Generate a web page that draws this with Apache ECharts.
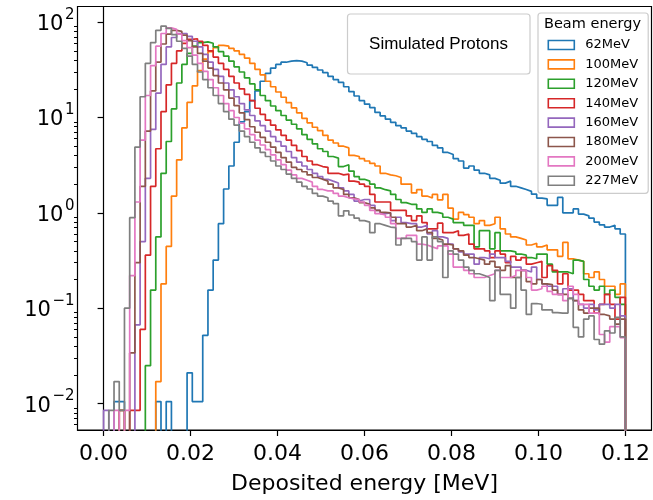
<!DOCTYPE html>
<html><head><meta charset="utf-8">
<script src="https://cdn.jsdelivr.net/npm/echarts@6/dist/echarts.min.js"></script>
<style>html,body{margin:0;padding:0;background:#fff}#c{width:653px;height:500px}</style>
</head><body><div id="c"></div>
<script>
// ---- data ----
const energies = ['62MeV','100MeV','120MeV','140MeV','160MeV','180MeV','200MeV','227MeV'];
const colors = ['#1f77b4','#ff7f0e','#2ca02c','#d62728','#9467bd','#8c564b','#e377c2','#7f7f7f'];
const binWidth = 0.0012;   // 100 bins from 0 to 0.12 MeV
const v62 = [0,0,0.0105,0.0105,0,0,0,0,0,0,
 0.0105,0,0.0105,0,0,0,0.021,0.0105,0.0105,0.052,
 0.155,0.32,0.77,1.78,3.1,5.5,9.0,11.5,15,19,
 24,29,33,36,38,39,39.5,39,37.5,35.5,
 33.5,31.5,29.5,27,25,23.3,21,18.7,16.8,15,
 13.8,12.7,11.3,10.4,9.6,8.9,8.2,7.8,7.2,6.8,
 6.3,5.9,5.6,5.1,4.8,4.3,4.1,3.7,3.5,2.95,
 3.1,2.8,2.6,2.5,2.3,2.2,2.05,2.15,1.9,1.83,
 1.76,1.68,1.57,1.43,1.4,1.2,1.2,1.45,1.0,1.0,
 1.1,0.97,0.93,0.88,0.8,0.75,0.71,0.74,0.68,0.6];
const v100 = [0,0,0,0.0085,0,0,0,0,0,0,
 0.017,0.18,0.445,1.5,3.6,7.8,14.4,21.5,31,41,
 49,54,57,56,53,50,46,42,37,32,
 28,24,21,18.5,16.3,14.3,12.6,11.2,9.8,8.8,
 7.9,7.3,6.5,5.8,5.4,5.0,4.8,4.0,3.9,3.7,
 3.5,3.3,3.1,2.6,2.5,2.45,2.35,2.0,2.0,1.62,
 1.75,1.5,1.43,1.56,1.37,1.56,1.12,0.86,1.01,0.96,
 0.9,0.77,0.83,0.74,0.77,0.9,0.68,0.6,0.56,0.54,
 0.52,0.46,0.48,0.44,0.46,0.41,0.41,0.35,0.49,0.33,
 0.32,0.31,0.23,0.21,0.24,0.2,0.17,0.17,0.14,0.18];
const v120 = [0,0,0,0,0,0,0,0,0.025,0.155,
 0.56,2.6,5.6,12.3,23,36,47,56,61,62,
 60,55,49,44,39,34,30,26,22.5,19.5,
 17,15,13.2,11.8,10.5,9.4,8.5,7.6,6.6,5.9,
 5.3,4.7,4.4,3.9,3.75,3.06,3.2,2.74,2.4,2.25,
 2.15,2.0,1.83,1.75,1.7,1.56,1.38,1.28,1.23,1.23,
 1.1,1.01,1.1,1.01,0.98,0.9,0.86,0.79,0.79,0.74,
 0.74,0.44,0.65,0.65,0.42,0.62,0.4,0.4,0.39,0.37,
 0.36,0.34,0.33,0.37,0.37,0.29,0.24,0.24,0.24,0.23,
 0.32,0.31,0.2,0.17,0.155,0.17,0.14,0.155,0.13,0.11];
const v140 = [0,0,0,0,0,0.0085,0.0085,0.06,0.36,1.9,
 4.7,11.5,22,37,50,60,66,67,63,57,
 50,43,37,32,27,23,20,17.5,15,12.5,
 10.8,9.4,8.3,7.4,6.5,5.8,5.1,4.5,3.9,3.5,
 3.2,3.06,3.0,2.6,2.6,2.5,2.55,2.15,2.1,2.0,
 1.9,1.56,1.3,1.3,1.3,1.06,1.06,1.06,0.93,0.83,
 0.93,0.79,0.68,0.68,0.78,0.62,0.62,0.65,0.58,0.6,
 0.47,0.42,0.42,0.4,0.34,0.4,0.37,0.3,0.35,0.32,
 0.34,0.29,0.3,0.31,0.21,0.28,0.25,0.18,0.23,0.155,
 0.155,0.14,0.12,0.12,0.089,0.11,0.14,0.11,0.077,0.13];
const v160 = [0.0085,0,0,0,0,0,0.067,0.5,2.3,7.5,
 18,36,55,69,76,76,71,63,55,46,
 38,32,27,23,19.5,16.5,14,12,10.5,9.2,
 8.2,7.2,6.3,5.6,5.0,4.4,3.8,3.4,3.1,2.85,
 2.6,2.4,2.25,2.15,2.06,1.83,1.7,1.56,1.33,1.38,
 1.38,1.2,1.06,0.98,1.0,0.83,0.9,0.79,0.77,0.77,
 0.71,0.74,0.6,0.65,0.56,0.54,0.47,0.42,0.39,0.37,
 0.37,0.29,0.34,0.33,0.37,0.34,0.34,0.31,0.27,0.27,
 0.25,0.24,0.27,0.2,0.18,0.17,0.17,0.14,0.16,0.16,
 0.12,0.11,0.1,0.11,0.096,0.11,0.11,0.1,0.11,0.083];
const v180 = [0,0,0,0.0085,0,0.034,0.3,1.9,7.2,19,
 38,59,75,82,80,73,64,55,47,39,
 33,27.5,23,19.5,16,13.3,11.2,9.5,8.0,7.0,
 6.2,5.5,4.9,4.3,3.8,3.4,3.0,2.85,2.7,2.5,
 2.35,2.25,2.15,2.0,1.83,1.76,1.56,1.44,1.38,1.28,
 1.23,1.13,1.06,1.01,1.0,0.9,0.77,0.77,0.71,0.74,
 0.65,0.68,0.62,0.54,0.52,0.47,0.46,0.42,0.4,0.36,
 0.34,0.33,0.32,0.29,0.31,0.27,0.25,0.28,0.21,0.21,
 0.25,0.19,0.18,0.2,0.18,0.177,0.155,0.14,0.14,0.127,
 0.12,0.096,0.089,0.1,0.1,0.086,0.083,0.077,0.068,0.077];
const v200 = [0,0,0.0085,0,0.0085,0.22,1.3,5.8,17,35,
 56,76,87,84,75,64,54,45,37,30.5,
 25,20.5,17,14,11.8,10,8.7,7.6,6.6,5.8,
 5.15,4.6,4.05,3.6,3.2,2.8,2.5,2.3,2.2,2.1,
 1.9,1.76,1.7,1.7,1.6,1.5,1.44,1.4,1.38,1.3,
 1.2,1.06,0.98,0.95,0.9,0.77,0.54,0.54,0.58,0.58,
 0.47,0.46,0.44,0.42,0.45,0.45,0.37,0.27,0.27,0.25,
 0.23,0.21,0.21,0.22,0.23,0.25,0.21,0.21,0.22,0.25,
 0.25,0.21,0.155,0.16,0.17,0.15,0.14,0.14,0.12,0.17,
 0.14,0.11,0.11,0.089,0.089,0.053,0.044,0.064,0.064,0.049];
const v227 = [0,0.0085,0.017,0.0085,0.10,0.89,4.9,16.5,37,61,
 82,91,86,74,63,53,44,36,30,25,
 20.5,17,14,11.5,9.6,8.3,7.2,6.3,5.5,4.8,
 4.3,3.9,3.5,3.1,2.85,2.55,2.3,2.1,1.9,1.78,
 1.6,1.5,1.44,1.33,1.25,0.93,1.05,0.95,0.88,0.83,
 0.8,0.62,0.77,0.74,0.71,0.7,0.46,0.54,0.54,0.5,
 0.32,0.56,0.32,0.56,0.5,0.21,0.4,0.37,0.32,0.27,
 0.25,0.23,0.22,0.21,0.12,0.25,0.14,0.14,0.1,0.21,
 0.155,0.086,0.112,0.11,0.096,0.096,0.09,0.089,0.089,0.127,
 0.063,0.05,0.077,0.083,0.047,0.042,0.058,0.055,0.08,0.05];
const seriesValues = [v62, v100, v120, v140, v160, v180, v200, v227];
const xTickValues = [0, 0.02, 0.04, 0.06, 0.08, 0.10, 0.12];
const yTickValues = [0.01, 0.1, 1, 10, 100];
const yMinorTickValues = [0.006,0.007,0.008,0.009,
  0.02,0.03,0.04,0.05,0.06,0.07,0.08,0.09,
  0.2,0.3,0.4,0.5,0.6,0.7,0.8,0.9,
  2,3,4,5,6,7,8,9, 20,30,40,50,60,70,80,90];
const xLabel = 'Deposited energy [MeV]';
const legendTitle = 'Beam energy';
const boxText = 'Simulated Protons';

// ---- build ----
const FLOOR = 1e-5; // empty bins: drawn below the axis (as matplotlib does)
const X_MIN = -0.006, X_MAX = 0.126;
const Y_MIN = Math.pow(10, -2.277), Y_MAX = Math.pow(10, 2.164);
function stepPoints(vals) {
  const pts = [[0, FLOOR]];
  for (let i = 0; i < vals.length; i++) {
    const v = vals[i] > 0 ? vals[i] : FLOOR;
    pts.push([+(i * binWidth).toFixed(5), v], [+((i + 1) * binWidth).toFixed(5), v]);
  }
  pts.push([+(vals.length * binWidth).toFixed(5), FLOOR]);
  return pts;
}
const FONT = 'DejaVu Sans';
const series = energies.map((name, k) => ({
  name, type: 'line', data: stepPoints(seriesValues[k]),
  showSymbol: false, symbol: 'none', clip: true, animation: false,
  lineStyle: { color: colors[k], width: 1.7 },
  itemStyle: { color: colors[k] },
  emphasis: { disabled: true }
}));
const chart = echarts.init(document.getElementById('c'), null, { renderer: 'canvas' });
chart.setOption({
  animation: false,
  backgroundColor: '#fff',
  grid: { left: 77.5, right: 1.5, top: 6.5, bottom: 65, show: true, borderColor: '#000', borderWidth: 1.2, backgroundColor: 'transparent' },
  xAxis: {
    type: 'value', min: X_MIN, max: X_MAX,
    name: xLabel, nameLocation: 'middle', nameGap: 43,
    nameTextStyle: { fontFamily: FONT, fontSize: 22, color: '#000' },
    axisLine: { show: true, onZero: false, lineStyle: { color: '#000', width: 1.2 } },
    axisTick: { show: true, length: 6, lineStyle: { color: '#000', width: 1.2 }, customValues: xTickValues },
    axisLabel: { fontFamily: FONT, fontSize: 22, color: '#000', margin: 13, customValues: xTickValues,
      formatter: v => v.toFixed(2) },
    splitLine: { show: false }
  },
  yAxis: [{
    type: 'log', logBase: 10, min: Y_MIN, max: Y_MAX,
    axisLine: { show: true, lineStyle: { color: '#000', width: 1.2 } },
    axisTick: { show: true, length: 6, lineStyle: { color: '#000', width: 1.2 }, customValues: yTickValues },
    axisLabel: { fontFamily: FONT, fontSize: 21, color: '#000', margin: 3, customValues: yTickValues,
      formatter: v => { const e = Math.round(Math.log10(v)); return '{b|10}{sup|' + (e < 0 ? '\u2212' + (-e) : e) + '}'; },
      rich: {
        b: { fontFamily: FONT, fontSize: 21, color: '#000', padding: [5, 0, 0, 0] },
        sup: { fontFamily: FONT, fontSize: 15, color: '#000', padding: [0, 0, 14, 1.5] }
      } },
    splitLine: { show: false }
  }, {
    type: 'log', logBase: 10, min: Y_MIN, max: Y_MAX, position: 'left',
    axisLine: { show: false },
    axisTick: { show: true, length: 3.5, lineStyle: { color: '#000', width: 1 }, customValues: yMinorTickValues },
    axisLabel: { show: false },
    splitLine: { show: false }
  }],
  legend: {
    orient: 'vertical', left: 538, top: 13,
    padding: [25.5, 10, 6, 9.5],
    itemWidth: 26, itemHeight: 9, itemGap: 6.4,
    backgroundColor: 'rgba(255,255,255,0.8)', borderColor: '#cccccc', borderWidth: 1.2, borderRadius: 3,
    textStyle: { fontFamily: FONT, fontSize: 13, color: '#000', padding: [0, 0, 0, 6] },
    selectedMode: false,
    data: energies.map((name, k) => ({ name, icon: 'rect',
      itemStyle: { color: 'rgba(255,255,255,0)', borderColor: colors[k], borderWidth: 1.6 } }))
  },
  graphic: [
    { type: 'text', z: 100, left: 544, top: 17,
      style: { text: legendTitle, font: '14.5px "DejaVu Sans"', fill: '#000' } },
    { type: 'rect', z: 50, shape: { x: 347.5, y: 14, width: 182.5, height: 60, r: 3 },
      style: { fill: 'rgba(255,255,255,0.8)', stroke: '#cccccc', lineWidth: 1.2 } },
    { type: 'text', z: 51, x: 438.5, y: 44,
      style: { text: boxText, font: '17px "Liberation Sans"', fill: '#000', align: 'center', verticalAlign: 'middle' } }
  ],
  series
});
</script></body></html>
